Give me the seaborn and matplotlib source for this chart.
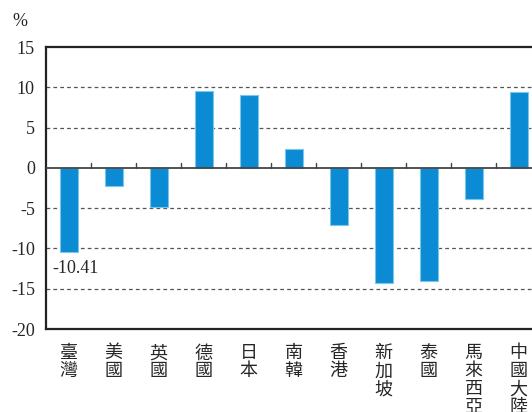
import matplotlib
matplotlib.use("Agg")
import matplotlib.pyplot as plt
import seaborn as sns
import pandas as pd

countries = ["臺灣", "美國", "英國", "德國", "日本", "南韓", "香港", "新加坡", "泰國", "馬來西亞", "中國大陸"]
values = [-10.41, -2.2, -4.9, 9.5, 9.0, 2.4, -7.1, -14.3, -14.0, -3.9, 9.4]
y_ticks = [-20, -15, -10, -5, 0, 5, 10, 15]

sns.set_theme(style="white")
plt.rcParams['font.family'] = ['Liberation Serif', 'Noto Sans CJK TC', 'DejaVu Sans']

df = pd.DataFrame({"country": countries, "value": values})

fig = plt.figure(figsize=(5.32, 4.12), dpi=100)
# axes runs past the right edge, like the reference crop
ax = fig.add_axes([46 / 532, 1 - 329 / 412, 495 / 532, 282 / 412])

sns.barplot(data=df, x="country", y="value", color="#0a8bd3", width=0.4,
            edgecolor="#7cc6ec", linewidth=0.8, saturation=1, ax=ax)

ax.set_ylim(-20, 15)
ax.set_xlim(-0.5, len(countries) - 0.5)
ax.set_yticks(y_ticks)
ax.set_yticklabels([str(t) for t in y_ticks], fontsize=13)
ax.tick_params(axis="y", length=0, pad=8)

# dashed gridlines
for t in y_ticks:
    if t not in (-20, 0, 15):
        ax.axhline(t, color="#555555", lw=0.9, ls=(0, (3, 2.5)), zorder=0)
ax.axhline(0, color="#444444", lw=1.3, zorder=3)

# small tick marks on zero line between categories
for i in range(1, len(countries)):
    ax.plot([i - 0.5, i - 0.5], [0, 0.55], color="#444444", lw=1.0, zorder=3)

ax.set_xticks(range(len(countries)))
ax.set_xticklabels(["\n".join(c) for c in countries], fontsize=13,
                   family=['Noto Sans CJK TC', 'DejaVu Sans'], linespacing=1.0, va="top")
ax.tick_params(axis="x", length=0, pad=11)
ax.set_xlabel("")
ax.set_ylabel("")

for side in ["left", "bottom", "top", "right"]:
    ax.spines[side].set_color("#222222")
    ax.spines[side].set_linewidth(1.6)

ax.annotate(f"{values[0]:.2f}", xy=(0, values[0]), xytext=(5, -6), textcoords="offset points",
            ha="center", va="top", fontsize=13)

fig.text(20 / 532, 1 - 22 / 412, "%", fontsize=13, ha="center", va="center")

fig.savefig("out.png", dpi=100)
